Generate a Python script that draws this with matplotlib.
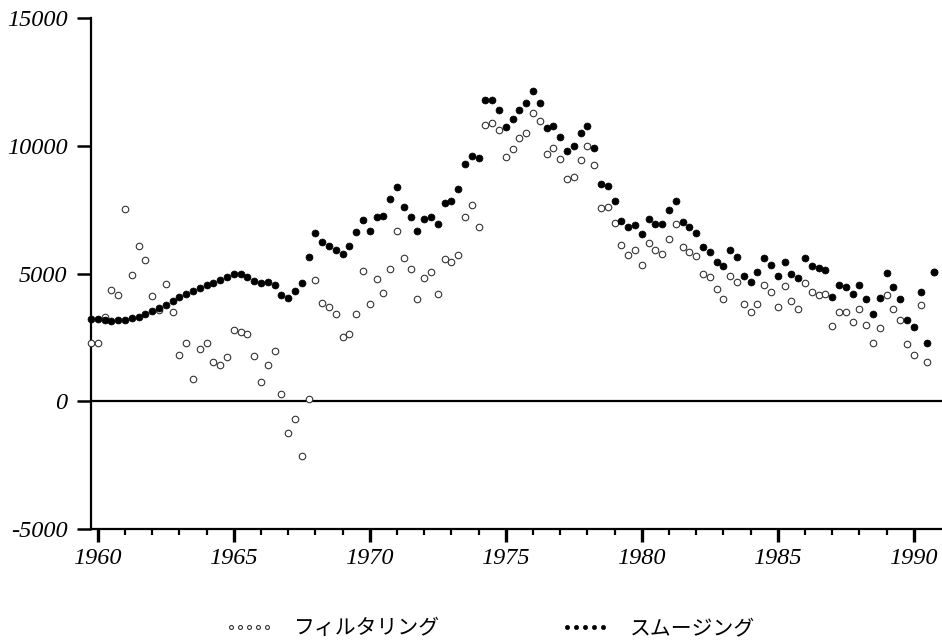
import numpy as np
import matplotlib
matplotlib.use("Agg")
import matplotlib.pyplot as plt

# quarterly time index, 1959 Q4 .. 1990 Q4
t = np.arange(1959.75, 1990.76, 0.25)

# filtering estimates (open circles)
filtering = [
    2270, 2270, 3307, 4357, 4160, 7507, 4948, 6089, 5538, 4121,
    3570, 4593, 3491, 1798, 2270, 853, 2034, 2270, 1522, 1404,
    1719, 2782, 2703, 2625, 1759, 735, 1404, 1955, 302, -1234,
    -682, -2139, 105, 4751, 3845, 3688, 3412, 2507, 2625, 3412,
    5105, 3806, 4790, 4239, 5184, 6680, 5617, 5184, 4003, 4829,
    5066, 4199, 5577, 5459, 5735, 7192, 7664, 6837, 10814, 10892,
    10617, 9554, 9869, 10302, 10499, 11286, 10971, 9672, 9908, 9475,
    8688, 8767, 9436, 9987, 9239, 7546, 7585, 6995, 6129, 5735,
    5932, 5341, 6207, 5932, 5774, 6365, 6956, 6050, 5853, 5696,
    4987, 4869, 4396, 4003, 4908, 4672, 3806, 3491, 3806, 4554,
    4278, 3688, 4514, 3924, 3609, 4633, 4278, 4160, 4199, 2940,
    3491, 3491, 3097, 3609, 2979, 2270, 2861, 4160, 3609, 3176,
    2231, 1798, 3766, 1522, 5066,
]

# smoothing estimates (filled circles)
smoothing = [
    3215, 3215, 3176, 3137, 3176, 3176, 3268, 3307, 3425, 3530,
    3648, 3780, 3924, 4081, 4199, 4331, 4449, 4554, 4633, 4764,
    4869, 4987, 4961, 4882, 4724, 4619, 4672, 4554, 4160, 4042,
    4304, 4633, 5656, 6601, 6247, 6089, 5932, 5774, 6089, 6640,
    7113, 6680, 7192, 7231, 7900, 8373, 7585, 7192, 6680, 7152,
    7192, 6956, 7743, 7822, 8294, 9278, 9593, 9514, 11798, 11798,
    11404, 10722, 11037, 11404, 11680, 12152, 11680, 10696, 10774, 10341,
    9790, 9987, 10499, 10774, 9908, 8491, 8412, 7822, 7073, 6837,
    6916, 6562, 7152, 6956, 6956, 7467, 7822, 7034, 6837, 6601,
    6050, 5853, 5459, 5302, 5932, 5656, 4908, 4672, 5066, 5617,
    5341, 4908, 5459, 4987, 4829, 5617, 5302, 5223, 5144, 4081,
    4554, 4475, 4199, 4554, 4003, 3412, 4042, 5026, 4475, 4003,
    3176, 2900, 4278, 2270, 5066,
]

y_ticks = [-5000, 0, 5000, 10000, 15000]
x_major = [1960, 1965, 1970, 1975, 1980, 1985, 1990]
labels = ["フィルタリング", "スムージング"]

fig = plt.figure(figsize=(9.42, 6.41), dpi=100)
ax = fig.add_axes([91 / 942, 1 - 529 / 641, 1 - 91 / 942, (529 - 18) / 641])

h1, = ax.plot(t, filtering, linestyle="none", marker="o", markersize=4.7,
              mfc="white", mec="#333333", mew=0.8, clip_on=False, zorder=3)
h2, = ax.plot(t, smoothing, linestyle="none", marker="o", markersize=5.0,
              mfc="black", mec="black", mew=0.5, clip_on=False, zorder=4)

ax.axhline(0, color="black", lw=1.6, zorder=2)

ax.set_xlim(1959.75, 1991.04)
ax.set_ylim(-5000, 15000)

for side in ["top", "right"]:
    ax.spines[side].set_visible(False)
for side in ["left", "bottom"]:
    ax.spines[side].set_linewidth(1.6)

ax.set_yticks(y_ticks)
ax.set_yticklabels([str(v) for v in y_ticks])
ax.set_xticks(x_major)
ax.set_xticklabels([str(v) for v in x_major])
ax.set_xticks(np.arange(1960, 1991, 1), minor=True)

ax.tick_params(axis="y", direction="out", length=10, width=1.8, pad=7)
ax.tick_params(axis="x", which="major", direction="out", length=9, width=2.4, pad=5)
ax.tick_params(axis="x", which="minor", direction="out", length=4.5, width=1.6)

for lab in ax.get_xticklabels() + ax.get_yticklabels():
    lab.set_fontfamily("Liberation Serif")
    lab.set_fontstyle("italic")
    lab.set_fontsize(17.5)

fig.legend([h1, h2], labels, loc="center", bbox_to_anchor=(490 / 942, 1 - 628 / 641),
           ncol=2, frameon=False, numpoints=5, markerscale=0.6,
           handlelength=2.3, handletextpad=1.0, columnspacing=5.8,
           prop={"family": ["Noto Sans CJK JP", "DejaVu Sans"], "size": 15})

fig.savefig("out.png", dpi=100)
